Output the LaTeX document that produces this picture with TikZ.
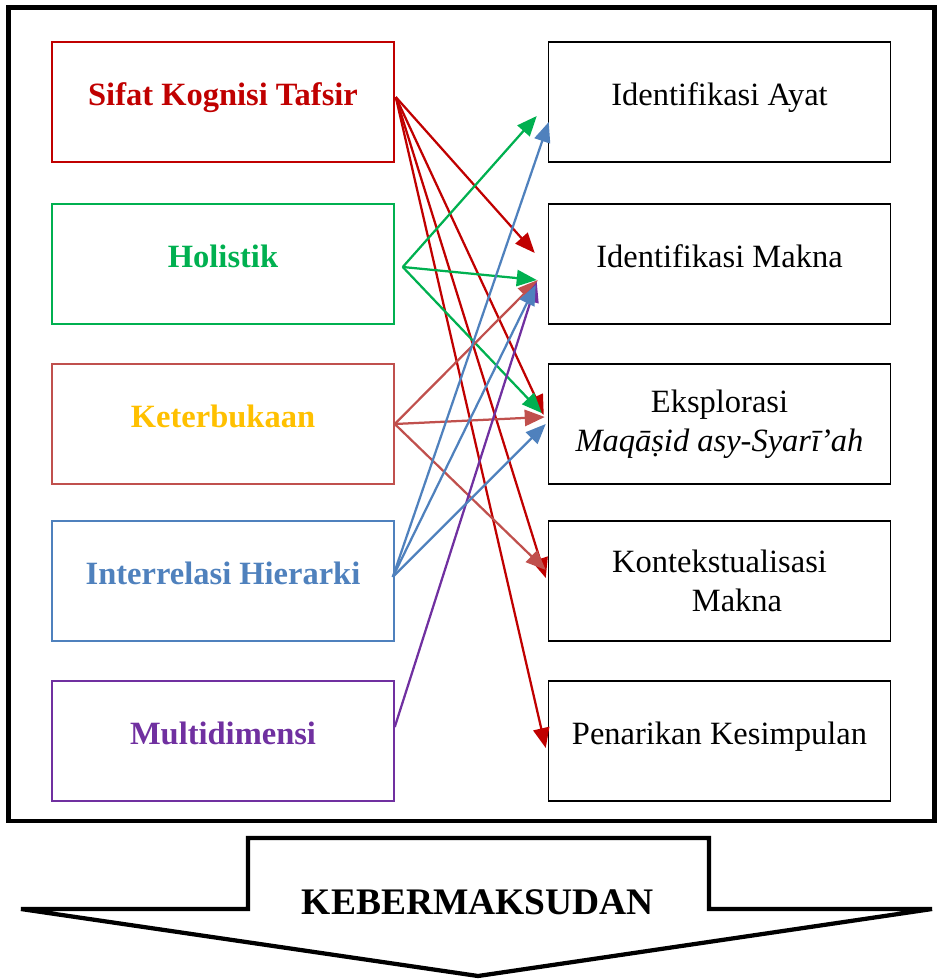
\documentclass[tikz,border=0pt]{standalone}
\usepackage{fontspec}
\setmainfont{Liberation Serif}
\usepackage{xcolor}
\usepackage{tikz}
\usetikzlibrary{arrows.meta}

\definecolor{kred}{HTML}{C00000}
\definecolor{kgreen}{HTML}{00B050}
\definecolor{kbrown}{HTML}{C0504D}
\definecolor{kgold}{HTML}{FFC000}
\definecolor{kblue}{HTML}{4F81BD}
\definecolor{kpurple}{HTML}{7030A0}

\tikzset{
	box/.style={draw,line width=0.6pt,minimum width=136.8pt,minimum height=48pt,inner sep=2pt,align=center,font=\fontsize{13}{15.5}\selectfont},
	oneline/.style={text height=9pt,text depth=6.5pt},
	lbox/.style={box,oneline,font=\fontsize{13}{15.5}\selectfont\bfseries},
	link/.style={line width=0.9pt,-{Triangle[length=8pt,width=6.5pt]}}
}

\begin{document}
\begin{tikzpicture}[x=0.4pt,y=-0.4pt]
	\useasboundingbox (0,0) rectangle (937,980);
	\draw[line width=1.8pt] (8.5,7.5) rectangle (934.5,821);
	\node[lbox,draw=kred,text=kred] (sifat) at (223,102) {Sifat Kognisi Tafsir};
	\node[lbox,draw=kgreen,text=kgreen] (holistik) at (223,264) {Holistik};
	\node[lbox,draw=kbrown,text=kgold] (keterbukaan) at (223,424) {Keterbukaan};
	\node[lbox,draw=kblue,text=kblue] (interrelasi) at (223,581) {Interrelasi Hierarki};
	\node[lbox,draw=kpurple,text=kpurple] (multidimensi) at (223,741) {Multidimensi};
	\node[box,oneline] (ayat) at (719.5,102) {Identifikasi Ayat};
	\node[box,oneline] (makna) at (719.5,264) {Identifikasi Makna};
	\node[box] (eksplorasi) at (719.5,424) {Eksplorasi\\\textit{Maqās^^^^0323id asy-Syarī’ah}};
	\node[box] (kontekstualisasi) at (719.5,581) {Kontekstualisasi\\\hspace*{14pt}Makna};
	\node[box,oneline] (penarikan) at (719.5,741) {Penarikan Kesimpulan};
	\draw[link,kred] ([shift={(1,-5)}]sifat.east) -- ([shift={(-13,-11)}]makna.west);
	\draw[link,kred] ([shift={(1,-5)}]sifat.east) -- ([shift={(-4,-9)}]eksplorasi.west);
	\draw[link,kred] ([shift={(1,-5)}]sifat.east) -- ([shift={(-2,-3)}]kontekstualisasi.west);
	\draw[link,kred] ([shift={(1,-5)}]sifat.east) -- ([shift={(-2,7)}]penarikan.west);
	\draw[link,kgreen] ([shift={(8,3)}]holistik.east) -- ([shift={(-11,14)}]ayat.west);
	\draw[link,kgreen] ([shift={(8,3)}]holistik.east) -- ([shift={(-11,16)}]makna.west);
	\draw[link,kgreen] ([shift={(8,3)}]holistik.east) -- ([shift={(-6,-11)}]eksplorasi.west);
	\draw[link,kbrown] (keterbukaan.east) -- ([shift={(-10,16)}]makna.west);
	\draw[link,kbrown] (keterbukaan.east) -- ([shift={(-3,-7)}]eksplorasi.west);
	\draw[link,kbrown] (keterbukaan.east) -- ([shift={(-2,-11)}]kontekstualisasi.west);
	\draw[link,kpurple] ([shift={(0,-14)}]multidimensi.east) -- ([shift={(-11,18)}]makna.west);
	\draw[link,kblue] ([shift={(-2,-4)}]interrelasi.east) -- ([shift={(1,20)}]ayat.west);
	\draw[link,kblue] ([shift={(-2,-4)}]interrelasi.east) -- ([shift={(-12,21)}]makna.west);
	\draw[link,kblue] ([shift={(-2,-4)}]interrelasi.east) -- ([shift={(-2,0)}]eksplorasi.west);
	\draw[line width=1.7pt] (248,838) -- (709,838) -- (709,909) -- (932,909) -- (478,976) -- (21,909) -- (248,909) -- cycle;
	\node[font=\fontsize{15}{18}\selectfont\bfseries] (kebermaksudan) at (478,902) {KEBERMAKSUDAN};
\end{tikzpicture}
\end{document}
